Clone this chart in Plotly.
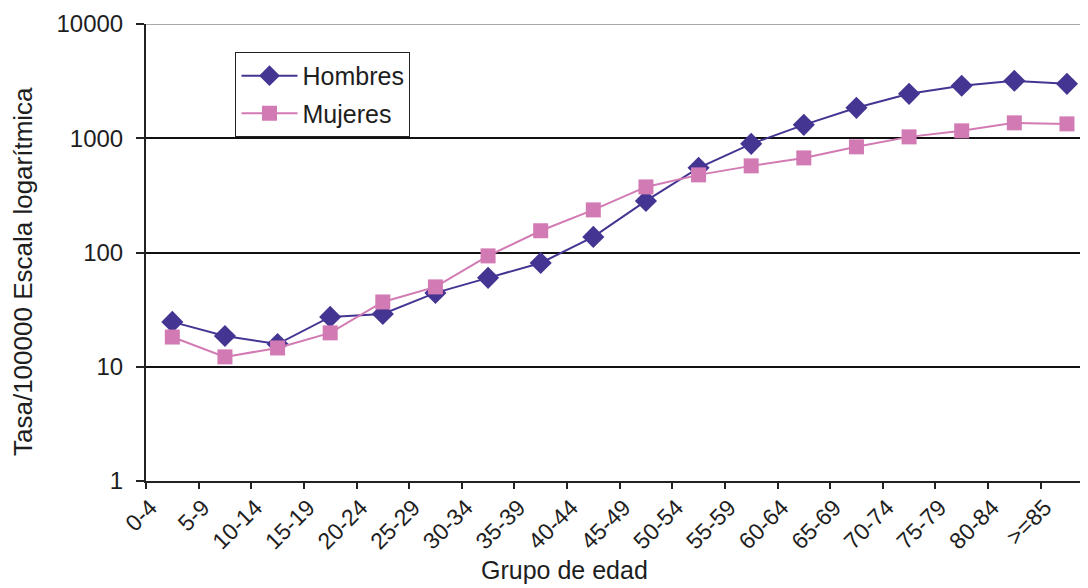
import plotly.graph_objects as go

categorias = ["0-4", "5-9", "10-14", "15-19", "20-24", "25-29", "30-34", "35-39",
              "40-44", "45-49", "50-54", "55-59", "60-64", "65-69", "70-74",
              "75-79", "80-84", ">=85"]
hombres = [24.7, 18.6, 15.8, 27.3, 29.0, 44.3, 60, 81, 137, 283, 551, 893,
           1310, 1846, 2448, 2877, 3184, 2993]
mujeres = [18.2, 12.2, 14.6, 19.8, 36.9, 50, 93.4, 155, 236, 375, 478, 573,
           673, 841, 1028, 1161, 1364, 1336]
y_ticks = [1, 10, 100, 1000, 10000]

FONT = "Liberation Sans, Arial, sans-serif"
TXT = "#1e1e1e"

fig = go.Figure()
fig.add_trace(go.Scatter(
    x=categorias, y=hombres, name="Hombres", mode="lines+markers",
    line=dict(color="#453593", width=2),
    marker=dict(symbol="diamond", size=17, color="#453593"),
    legendgroup="h"))
fig.add_trace(go.Scatter(
    x=categorias, y=mujeres, name="Mujeres", mode="lines+markers",
    line=dict(color="#d27ab3", width=2),
    marker=dict(symbol="square", size=15, color="#d27ab3"),
    legendgroup="m"))

fig.update_layout(
    width=1080, height=580,
    margin=dict(l=138, r=0, t=16, b=107),
    paper_bgcolor="white", plot_bgcolor="white",
    font=dict(family=FONT, color=TXT),
    showlegend=True,
    legend=dict(x=0.095, y=0.939, xanchor="left", yanchor="top",
                bordercolor="#222", borderwidth=1, bgcolor="white",
                font=dict(size=25, family=FONT, color=TXT),
                itemwidth=56,
                tracegroupgap=2, traceorder="grouped"),
    xaxis=dict(type="category", range=[-0.5, 17.4],
               tickson="boundaries", ticks="outside", ticklen=6,
               tickcolor="#222", tickwidth=1.5,
               showline=True, linecolor="#222", linewidth=2,
               showgrid=False, tickangle=-45,
               tickfont=dict(size=23, family=FONT, color=TXT),
               ticklabelshift=-22, ticklabelstandoff=2),
    yaxis=dict(type="log", range=[0, 4], tickvals=y_ticks,
               ticktext=[str(v) for v in y_ticks],
               ticks="outside", ticklen=8, tickcolor="#222", tickwidth=1.5,
               showline=True, linecolor="#222", linewidth=2,
               showgrid=True, gridcolor="#111", gridwidth=2,
               tickfont=dict(size=24, family=FONT, color=TXT),
               ticklabelstandoff=8),
)

# lighter top border line at 10000
fig.add_shape(type="line", xref="paper", yref="y", x0=0, x1=1, y0=10000, y1=10000,
              line=dict(color="#a8a8a8", width=2), layer="below")

fig.add_annotation(text="Grupo de edad", xref="paper", yref="paper",
                   x=0.444, y=-0.2295, yanchor="bottom", showarrow=False,
                   font=dict(size=25, family=FONT, color=TXT))
fig.add_annotation(text="Tasa/100000 Escala logarítmica", xref="paper", yref="paper",
                   x=-0.1306, y=0.4595, textangle=-90, xanchor="center", yanchor="middle",
                   showarrow=False, font=dict(size=26, family=FONT, color=TXT))

fig.write_html("out.html")
